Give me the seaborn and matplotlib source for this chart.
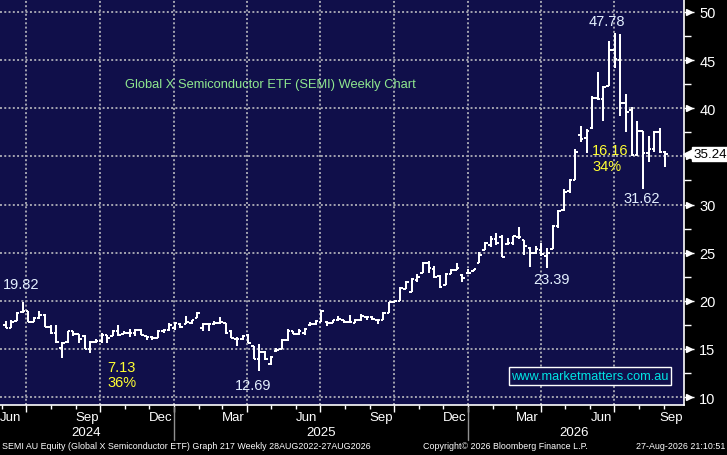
import numpy as np
import pandas as pd
import matplotlib
matplotlib.use("Agg")
import matplotlib.pyplot as plt
import matplotlib.dates as mdates
import matplotlib.transforms as mtransforms
import seaborn as sns

# weekly OHLC of SEMI AU
opens = [17.45, 17.2, 17.9, 18.8, 18.9, 17.8, 18.2, 18.5, 17.3, 16.7,
         15.1, 15.7, 16.85, 16.5, 16.3, 15.0, 15.75, 15.8, 16.45, 16.35,
         16.85, 16.5, 16.7, 16.6, 17.0, 16.35, 16.2, 16.1, 16.85, 17.0,
         17.2, 17.6, 17.6, 17.7, 18.25, 17.2, 17.6, 17.55, 17.7, 17.7,
         16.85, 16.0, 16.0, 16.4, 15.3, 14.0, 14.7, 13.4, 14.8, 15.0,
         15.9, 16.85, 16.5, 16.7, 17.5, 17.55, 17.8, 17.8, 17.7, 17.95,
         18.05, 17.8, 17.7, 17.95, 18.3, 18.3, 18.0, 18.05, 18.75, 19.9,
         20.0, 21.25, 20.9, 22.2, 22.9, 23.9, 23.3, 22.6, 21.6, 22.75,
         23.2, 22.7, 22.85, 23.1, 23.9, 25.3, 25.8, 26.4, 26.6, 25.9,
         26.0, 26.6, 26.3, 25.5, 25.0, 25.3, 24.7, 25.4, 27.8, 29.4,
         31.4, 32.5, 37.2, 36.9, 37.9, 41.1, 41.0, 42.3, 46.0, 45.0,
         40.5, 39.8, 35.1, 37.6, 35.3, 35.8, 37.5, 35.5]
highs = [17.9, 18.05, 18.8, 19.82, 18.95, 18.3, 18.9, 18.65, 17.45, 17.45,
         15.7, 16.9, 16.9, 16.55, 16.4, 15.85, 16.0, 16.7, 16.45, 16.95,
         17.45, 16.9, 17.1, 17.1, 17.1, 16.35, 16.35, 16.95, 17.1, 17.65,
         17.75, 17.7, 18.45, 18.05, 18.85, 17.7, 17.7, 17.85, 18.3, 17.7,
         16.95, 16.2, 16.4, 16.5, 15.3, 15.5, 14.8, 14.3, 15.05, 16.0,
         17.1, 16.85, 17.1, 17.2, 17.8, 17.95, 19.05, 17.9, 18.05, 18.4,
         18.05, 18.5, 18.1, 18.65, 18.4, 18.4, 18.05, 18.85, 19.9, 20.1,
         21.45, 22.05, 22.4, 22.75, 24.05, 24.1, 23.6, 22.65, 22.9, 23.35,
         23.9, 22.75, 23.35, 23.35, 25.1, 26.15, 26.7, 27.0, 26.85, 26.5,
         26.75, 27.65, 26.35, 25.6, 25.7, 26.0, 25.5, 27.85, 29.4, 31.6,
         32.6, 35.8, 38.2, 37.85, 41.3, 43.8, 42.3, 47.0, 47.78, 47.7,
         41.5, 40.1, 38.7, 37.6, 37.1, 37.6, 37.9, 35.6]
lows = [17.2, 17.2, 17.9, 18.75, 17.75, 17.75, 18.1, 17.3, 16.55, 15.65,
        14.05, 15.65, 16.35, 15.65, 15.0, 14.6, 15.6, 15.65, 15.65, 16.35,
        16.35, 16.5, 16.2, 16.35, 16.4, 15.95, 15.95, 16.1, 16.7, 16.85,
        17.0, 17.2, 17.6, 17.6, 18.2, 16.85, 16.85, 17.45, 17.6, 16.5,
        16.1, 15.35, 15.95, 15.6, 13.9, 12.69, 13.8, 13.35, 14.65, 14.95,
        15.85, 16.5, 16.4, 16.4, 17.4, 17.5, 17.75, 17.4, 17.7, 17.9,
        17.65, 17.65, 17.65, 17.9, 18.0, 18.05, 17.6, 18.05, 18.7, 19.85,
        20.0, 21.25, 20.9, 21.95, 22.9, 22.85, 22.4, 21.35, 21.6, 22.75,
        23.2, 21.95, 22.8, 23.05, 23.9, 25.25, 25.6, 25.8, 24.5, 25.8,
        25.8, 26.4, 24.75, 23.55, 24.85, 24.6, 23.39, 25.35, 27.6, 29.3,
        31.2, 32.5, 36.5, 35.4, 37.85, 40.9, 38.7, 42.3, 44.2, 39.2,
        37.5, 35.0, 35.0, 31.62, 34.4, 35.5, 35.4, 33.9]
closes = [17.2, 17.8, 18.75, 18.9, 17.8, 18.25, 18.5, 17.3, 16.7, 15.7,
          15.65, 16.85, 16.5, 16.0, 15.0, 15.75, 15.85, 16.45, 16.1, 16.85,
          16.4, 16.7, 16.7, 17.0, 16.45, 16.2, 16.1, 16.85, 17.0, 17.5,
          17.65, 17.3, 17.8, 17.95, 18.7, 17.55, 17.6, 17.7, 17.75, 16.6,
          16.1, 16.0, 16.35, 15.6, 13.9, 14.65, 13.9, 14.2, 14.9, 15.95,
          16.85, 16.5, 16.85, 17.1, 17.55, 17.9, 18.9, 17.65, 17.95, 18.15,
          17.8, 17.8, 17.95, 18.4, 18.3, 18.15, 17.95, 18.75, 19.85, 20.0,
          21.3, 21.95, 22.3, 22.5, 23.9, 23.4, 22.45, 21.4, 22.75, 23.2,
          23.45, 22.35, 22.9, 23.3, 24.75, 26.05, 26.4, 26.05, 24.5, 26.0,
          26.7, 26.6, 25.7, 25.0, 25.4, 24.85, 24.95, 27.75, 29.3, 31.3,
          32.5, 35.5, 36.8, 37.6, 41.1, 41.0, 42.2, 46.0, 45.1, 40.5,
          39.6, 35.1, 37.6, 35.4, 35.8, 37.5, 35.5, 35.24]
dates = pd.date_range("2024-06-06", periods=len(closes), freq="7D")

quarter_starts = pd.to_datetime(["2024-07-01", "2024-10-01", "2025-01-01", "2025-04-01",
                                 "2025-07-01", "2025-10-01", "2026-01-01", "2026-04-01",
                                 "2026-07-01"])
month_ticks = pd.date_range("2024-06-01", "2026-09-01", freq="MS")
month_labels = ["Jun", "Sep", "Dec", "Mar", "Jun", "Sep", "Dec", "Mar", "Jun", "Sep"]
month_label_dates = pd.to_datetime(["2024-06-12", "2024-09-15", "2024-12-15", "2025-03-15",
                                    "2025-06-15", "2025-09-15", "2025-12-15", "2026-03-15",
                                    "2026-06-15", "2026-09-10"])
years = ["2024", "2025", "2026"]
year_label_dates = pd.to_datetime(["2024-09-14", "2025-07-02", "2026-05-13"])
year_breaks = pd.to_datetime(["2025-01-01", "2026-01-01"])
y_ticks = [10, 15, 20, 25, 30, 35, 40, 45, 50]
y_tick_labels = ["10", "15", "20", "25", "30", "", "40", "45", "50"]  # 35 sits under the price tag
last_price = 35.24

navy = "#100f4a"
sns.set_theme(style="dark", rc={"axes.facecolor": navy, "figure.facecolor": "black"})
plt.rcParams["font.family"] = ["Liberation Sans", "DejaVu Sans"]

fig = plt.figure(figsize=(7.27, 4.56), dpi=100, facecolor="black")
ax = fig.add_axes([0, 50 / 456, 684 / 727, 406 / 456])
ax.set_facecolor(navy)

x = mdates.date2num(dates)
bar_kw = dict(color="white", lw=1.2, zorder=3, antialiased=False)
ax.vlines(x, lows, highs, **bar_kw)
ax.hlines(opens, x - 3.2, x, **bar_kw)
ax.hlines(closes, x, x + 3.2, **bar_kw)

ax.set_xlim(mdates.date2num(pd.Timestamp("2024-05-30")), mdates.date2num(pd.Timestamp("2026-09-26")))
ax.set_ylim(9.17, 51.35)

# grid
ax.set_yticks(y_ticks)
ax.set_yticklabels(y_tick_labels)
ax.set_yticks(np.arange(12.5, 50, 5), minor=True)
ax.set_xticks(mdates.date2num(quarter_starts))
ax.set_xticks(mdates.date2num(month_ticks), minor=True)
ax.set_xticklabels([])
ax.grid(True, which="major", color="#a4a4b0", ls=(0, (1, 1.2)), lw=1.4)
ax.grid(False, which="minor")

for s in ["top", "left"]:
    ax.spines[s].set_visible(False)
ax.spines["right"].set_color("white")
ax.spines["right"].set_linewidth(1.2)
ax.spines["bottom"].set_color("white")
ax.spines["bottom"].set_linewidth(1.2)

ax.yaxis.tick_right()
ax.tick_params(axis="y", which="major", length=7, width=1, color="white",
               labelcolor="white", labelsize=10.5, pad=4, right=True, left=False)
ax.tick_params(axis="y", which="minor", length=5, width=1, color="white", right=True, left=False)
ax.tick_params(axis="x", which="major", length=5, width=1, color="white", bottom=True)
ax.tick_params(axis="x", which="minor", length=3, width=1, color="white", bottom=True)

# tick arrows on right axis
arrow_tr = mtransforms.blended_transform_factory(ax.transAxes, ax.transData) + \
    mtransforms.ScaledTranslation(5 / 100, 0, fig.dpi_scale_trans)
ax.plot([1.0] * len(y_ticks), y_ticks, ls="none", marker=">", ms=5, color="white",
        transform=arrow_tr, clip_on=False, zorder=5)

# last price tag
tag_tr = mtransforms.blended_transform_factory(ax.transAxes, ax.transData) + \
    mtransforms.ScaledTranslation(4.5 / 100, 0, fig.dpi_scale_trans)
ax.plot([1.0], [last_price], ls="none", marker="<", ms=8, color="white",
        transform=tag_tr, clip_on=False, zorder=6)
ax.annotate(f"{last_price:.2f}", xy=(1.0, last_price), xycoords=("axes fraction", "data"),
            xytext=(6.5, 0), textcoords="offset points", ha="left", va="center",
            fontsize=9.6, color="black",
            bbox=dict(boxstyle="square,pad=0.1", fc="white", ec="white"),
            annotation_clip=False, zorder=6)

# month and year labels
xb = mtransforms.blended_transform_factory(ax.transData, ax.transAxes)
for d, lab in zip(month_label_dates, month_labels):
    ax.text(mdates.date2num(d), -0.03, lab, transform=xb, ha="center", va="center",
            color="white", fontsize=9.5)
for d, lab in zip(year_label_dates, years):
    ax.text(mdates.date2num(d), -0.066, lab, transform=xb, ha="center", va="center",
            color="white", fontsize=9.5)
for d in year_breaks:
    ax.plot([mdates.date2num(d)] * 2, [-0.005, -0.085], transform=xb, color="#909090",
            lw=1, clip_on=False)

# annotations
xa = mtransforms.blended_transform_factory(ax.transAxes, ax.transData)
hl_color = "#e4f0ff"
ax.text(3 / 684, 21.74, "19.82", transform=xa, color=hl_color, fontsize=10.5, ha="left", va="center")
ax.text(107 / 684, 13.12, "7.13", transform=xa, color="#ffff33", fontsize=10.5, ha="left", va="center")
ax.text(107 / 684, 11.56, "36%", transform=xa, color="#ffff33", fontsize=10.5, ha="left", va="center")
ax.text(253 / 684, 11.25, "12.69", transform=xa, color=hl_color, fontsize=10.5, ha="center", va="center")
ax.text(551 / 684, 22.26, "23.39", transform=xa, color=hl_color, fontsize=10.5, ha="center", va="center")
ax.text(607 / 684, 49.06, "47.78", transform=xa, color=hl_color, fontsize=10.5, ha="center", va="center")
ax.text(592 / 684, 35.66, "16.16", transform=xa, color="#ffff33", fontsize=10.5, ha="left", va="center")
ax.text(592 / 684, 34.0, "34%", transform=xa, color="#ffff33", fontsize=10.5, ha="left", va="center")
ax.text(642 / 684, 30.68, "31.62", transform=xa, color=hl_color, fontsize=10.5, ha="center", va="center")

ax.text(270 / 684, 42.52, "Global X Semiconductor ETF (SEMI) Weekly Chart", transform=xa,
        color="#8fe88f", fontsize=9.3, ha="center", va="center")
ax.text(590 / 684, 12.18, "www.marketmatters.com.au", transform=xa, color="#00e5e5",
        fontsize=9.2, ha="center", va="center",
        bbox=dict(boxstyle="square,pad=0.22", fc=navy, ec="white", lw=1))

# footer
foot = dict(color="white", fontsize=6.4, va="center")
fig.text(2 / 727, 9 / 456, "SEMI AU Equity (Global X Semiconductor ETF) Graph 217 Weekly 28AUG2022-27AUG2026",
         ha="left", **foot)
fig.text(505 / 727, 9 / 456, "Copyright\u00a9 2026 Bloomberg Finance L.P.", ha="center", **foot)
fig.text(725 / 727, 9 / 456, "27-Aug-2026 21:10:51", ha="right", **foot)

fig.savefig("out.png", dpi=100, facecolor="black")
